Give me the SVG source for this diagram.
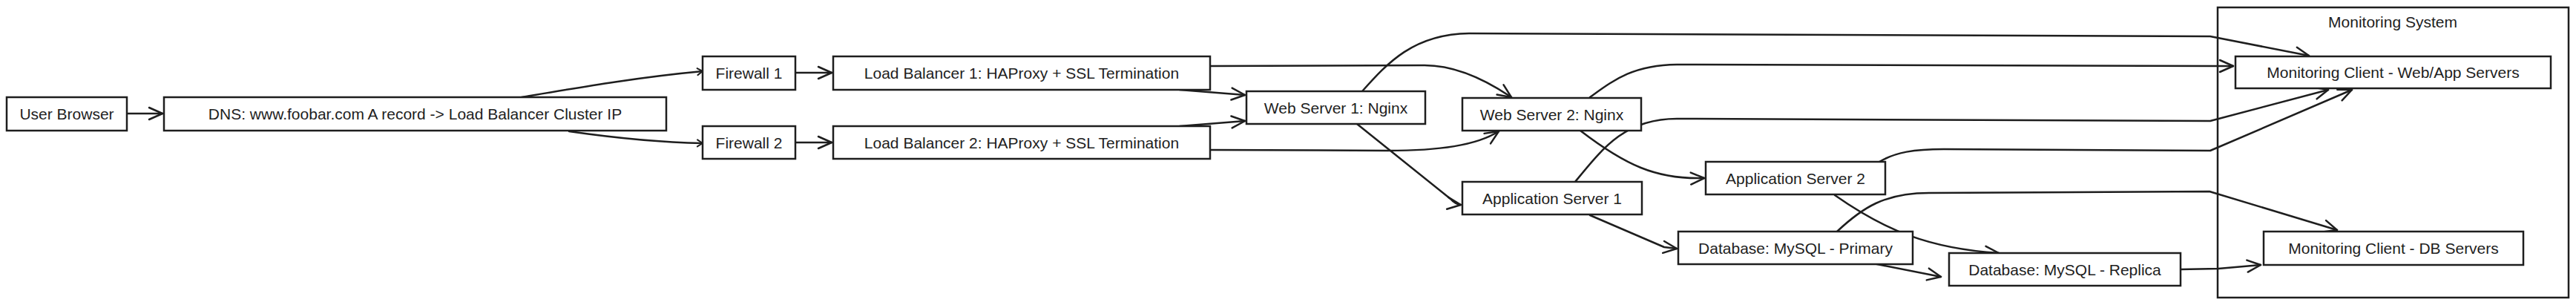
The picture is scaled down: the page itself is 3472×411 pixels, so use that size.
<svg xmlns="http://www.w3.org/2000/svg" width="3472" height="411" viewBox="0 0 3472 411">
<style>
  .bg { fill: #ffffff; }
  .node rect { fill: #ffffff; stroke: #1e1e1e; stroke-width: 2.5; }
  .node text, .group text { font-family: "Liberation Sans", "DejaVu Sans", sans-serif; font-size: 21px; fill: #1e1e1e; text-anchor: middle; dominant-baseline: central; }
  .group rect { fill: none; stroke: #1e1e1e; stroke-width: 2.5; }
  .edges path { fill: none; stroke: #1e1e1e; stroke-width: 2.5; stroke-linecap: round; stroke-linejoin: round; marker-end: url(#arrow); }
  .edges path.short { marker-end: url(#arrowSmall); }
</style>
<defs>
  <marker id="arrow" viewBox="0 0 22 22" refX="20" refY="11" markerWidth="22" markerHeight="22" markerUnits="userSpaceOnUse" orient="auto">
    <path d="M2,3 L20,11 L2,19" fill="none" stroke="#1e1e1e" stroke-width="2.5" stroke-linecap="round" stroke-linejoin="round"/>
  </marker>
  <marker id="arrowSmall" viewBox="0 0 12 12" refX="10" refY="6" markerWidth="12" markerHeight="12" markerUnits="userSpaceOnUse" orient="auto">
    <path d="M3,1.5 L10,6 L3,10.5" fill="none" stroke="#1e1e1e" stroke-width="2" stroke-linecap="round" stroke-linejoin="round"/>
  </marker>
</defs>
<rect class="bg" x="0" y="0" width="3472" height="411"/>

<g id="monitoring-system" class="group">
  <rect x="2989" y="10" width="473" height="391"/>
  <text x="3225" y="29">Monitoring System</text>
</g>

<g id="connectors" class="edges">
  <path d="M171,153 L219,153"/>
  <path class="short" d="M703,131 C780,118 860,104 947,96"/>
  <path class="short" d="M767,177 C830,186 890,192 947,193"/>
  <path d="M1072,98 L1121,98"/>
  <path d="M1072,192 L1121,192"/>
  <path d="M1590,121 L1678,128"/>
  <path d="M1590,170 L1678,163"/>
  <path d="M1631,89 L1920,88 C1960,88 2000,106 2037,131"/>
  <path d="M1631,202 L1870,203 C1940,203 1990,196 2020,177"/>
  <path d="M1836,123 C1870,85 1905,46 1980,45 L2979,49 L3112,75"/>
  <path d="M2143,131 C2175,108 2200,88 2260,87 L2990,89 L3010,89"/>
  <path d="M1829,167 L1955,268 Q1961,275 1969,276"/>
  <path d="M2130,176 C2190,222 2232,242 2297,240"/>
  <path d="M2123,245 C2160,200 2190,160 2260,160 L2979,163 L3138,121"/>
  <path d="M2533,218 C2555,205 2580,201 2620,201 L2979,203 L3170,121"/>
  <path d="M2143,290 L2243,333 L2260,335"/>
  <path d="M2473,263 C2540,310 2600,335 2694,341"/>
  <path d="M2525,355 L2616,373"/>
  <path d="M2476,312 C2510,280 2540,260 2600,260 L2978,258 L3150,310"/>
  <path d="M2939,363 L2990,362 L3047,357"/>
</g>

<g id="user-browser" class="node"><rect x="9" y="131" width="162" height="45"/><text x="90" y="153.5">User Browser</text></g>
<g id="dns" class="node"><rect x="221" y="131" width="677" height="45"/><text x="559.5" y="153.5">DNS: www.foobar.com A record -&gt; Load Balancer Cluster IP</text></g>
<g id="firewall-1" class="node"><rect x="947" y="76" width="125" height="45"/><text x="1009.5" y="98.5">Firewall 1</text></g>
<g id="load-balancer-1" class="node"><rect x="1123" y="76" width="508" height="45"/><text x="1377" y="98.5">Load Balancer 1: HAProxy + SSL Termination</text></g>
<g id="firewall-2" class="node"><rect x="947" y="170" width="125" height="44"/><text x="1009.5" y="192">Firewall 2</text></g>
<g id="load-balancer-2" class="node"><rect x="1123" y="170" width="508" height="44"/><text x="1377" y="192">Load Balancer 2: HAProxy + SSL Termination</text></g>
<g id="web-server-1" class="node"><rect x="1680" y="123" width="241" height="44"/><text x="1800.5" y="145">Web Server 1: Nginx</text></g>
<g id="web-server-2" class="node"><rect x="1971" y="132" width="241" height="44"/><text x="2091.5" y="154">Web Server 2: Nginx</text></g>
<g id="app-server-1" class="node"><rect x="1971" y="245" width="242" height="44"/><text x="2092" y="267">Application Server 1</text></g>
<g id="app-server-2" class="node"><rect x="2299" y="218" width="242" height="44"/><text x="2420" y="240">Application Server 2</text></g>
<g id="db-primary" class="node"><rect x="2262" y="312" width="316" height="44"/><text x="2420" y="334">Database: MySQL - Primary</text></g>
<g id="db-replica" class="node"><rect x="2627" y="341" width="312" height="44"/><text x="2783" y="363">Database: MySQL - Replica</text></g>
<g id="monitoring-client-web" class="node"><rect x="3013" y="76" width="425" height="43"/><text x="3225.5" y="97.5">Monitoring Client - Web/App Servers</text></g>
<g id="monitoring-client-db" class="node"><rect x="3051" y="312" width="350" height="45"/><text x="3226" y="334.5">Monitoring Client - DB Servers</text></g>
</svg>
